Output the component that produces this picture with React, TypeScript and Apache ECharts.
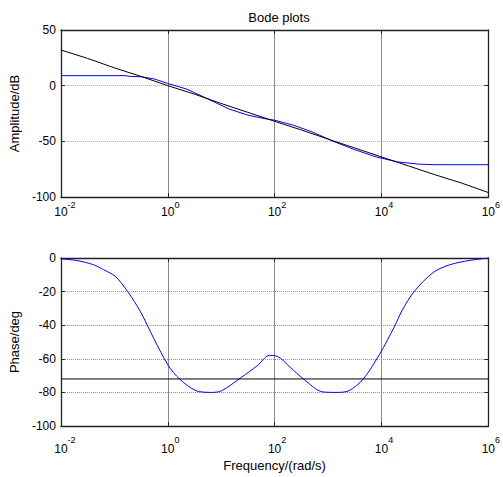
import React, { useEffect, useRef } from "react";
import * as echarts from "echarts";

// Frequencies given as decade exponents (log10 of rad/s)
const ampBlackExp = [-2, -1.5, -1, -0.5, 0, 0.5, 1, 1.5, 2, 2.5, 3, 3.5, 4, 4.5, 5, 5.5, 6];
const ampBlackDb = [32, 24.5, 16, 8.3, 0, -7.6, -16, -24, -32, -39.8, -48, -56, -64, -72, -80, -87.5, -96];

const ampBlueExp = [-2, -0.8, -0.7, -0.5, -0.25, 0, 0.35, 0.6, 0.95, 1.15, 1.5, 1.8, 2.0, 2.35, 2.7, 3.1, 3.5, 3.9, 4.3, 4.7, 5, 6];
const ampBlueDb = [9, 9, 8.3, 8, 6, 2, -3, -8.5, -16.5, -21, -26.5, -29.5, -31, -35.5, -41.5, -50, -57.5, -64, -68.5, -70.5, -71, -71];

const phaseExp = [-2, -1.7, -1.39, -1.2, -0.98, -0.75, -0.51, -0.26, 0.01, 0.22, 0.53, 0.83, 1.01, 1.38, 1.68, 1.9, 2.05, 2.29, 2.54, 2.9, 3.15, 3.39, 3.66, 3.97, 4.24, 4.39, 4.61, 4.97, 5.28, 5.64, 6];
const phaseDeg = [-0.5, -1.5, -4, -7, -11, -20, -32, -48, -64, -72, -79, -80, -79, -71, -64, -58, -58.5, -65, -72, -79.7, -80, -79, -72, -57, -41, -31, -20, -8.6, -4, -1.5, 0];

const phaseRefLine = -72;

const xTickExps = [-2, 0, 2, 4, 6];
const ampTicks = [-100, -50, 0, 50];
const phaseTicks = [-100, -80, -60, -40, -20, 0];

const FONT = "Liberation Sans, Arial, sans-serif";

function pairs(exps: number[], vals: number[]) {
  return exps.map((e, i) => [Math.pow(10, e), vals[i]]);
}

export default function App() {
  const ref = useRef<HTMLDivElement>(null);
  useEffect(() => {
    if (!ref.current) return;
    const chart = echarts.init(ref.current, undefined, { renderer: "svg" });

    const xLabelFmt = (v: number) => {
      const e = String(Math.round(Math.log10(v)));
      return `{p${e.length}|}{b|10}{s|${e}}`;
    };
    // bPad: space above "10"; sPad: space below the exponent (same total height)
    const richFor = (bPad: number, sPad: number) => ({
      p1: { width: 5, height: 12 + bPad },
      p2: { width: 8, height: 12 + bPad },
      b: { fontSize: 12, lineHeight: 12, padding: [bPad, 0, 0, 0], fontFamily: FONT, color: "#000" },
      s: { fontSize: 9, lineHeight: 9, padding: [0, 0, sPad, 0], fontFamily: FONT, color: "#000" },
    });

    const gridLeft = 55;
    const gridW = 438;
    const grids = [
      { left: gridLeft, top: 30, width: gridW, height: 167 },
      { left: gridLeft, top: 258, width: gridW, height: 168 },
    ];

    const mainX = (gi: number, margin: number, bPad: number, sPad: number, name?: string) => ({
      type: "log",
      logBase: 10,
      gridIndex: gi,
      min: Math.pow(10, xTickExps[0]),
      max: Math.pow(10, xTickExps[xTickExps.length - 1]),
      interval: 2,
      position: "bottom",
      name: name || "",
      nameLocation: "middle",
      nameGap: 33,
      nameTextStyle: { fontSize: 13, fontFamily: FONT, color: "#000" },
      axisLine: { show: true, onZero: false, lineStyle: { color: "#222", width: 1.3 } },
      axisTick: { show: true, inside: true, length: 4, lineStyle: { color: "#222" } },
      axisLabel: { margin: margin, formatter: xLabelFmt, rich: richFor(bPad, sPad), color: "#000" },
      splitLine: { show: true, lineStyle: { color: "#8a8a8a", width: 1 } },
      minorTick: { show: false },
    });
    const topX = (gi: number) => ({
      type: "log",
      logBase: 10,
      gridIndex: gi,
      min: Math.pow(10, xTickExps[0]),
      max: Math.pow(10, xTickExps[xTickExps.length - 1]),
      interval: 2,
      position: "top",
      axisLine: { show: true, onZero: false, lineStyle: { color: "#222", width: 1.3 } },
      axisTick: { show: true, inside: true, length: 4, lineStyle: { color: "#222" } },
      axisLabel: { show: false },
      splitLine: { show: false },
    });

    const mainY = (gi: number, min: number, max: number, interval: number, name: string, hColor: string) => ({
      type: "value",
      gridIndex: gi,
      min,
      max,
      interval,
      position: "left",
      name,
      nameLocation: "middle",
      nameGap: 38,
      nameTextStyle: { fontSize: 13, fontFamily: FONT, color: "#000" },
      axisLine: { show: true, onZero: false, lineStyle: { color: "#222", width: 1.3 } },
      axisTick: { show: true, inside: true, length: 4, lineStyle: { color: "#222" } },
      axisLabel: { margin: 5, fontSize: 12, fontFamily: FONT, color: "#000" },
      splitLine: { show: true, lineStyle: { color: hColor, width: 1, type: [1, 1] } },
    });
    const rightY = (gi: number, min: number, max: number, interval: number) => ({
      type: "value",
      gridIndex: gi,
      min,
      max,
      interval,
      position: "right",
      axisLine: { show: true, onZero: false, lineStyle: { color: "#222", width: 1.3 } },
      axisTick: { show: true, inside: true, length: 4, lineStyle: { color: "#222" } },
      axisLabel: { show: false },
      splitLine: { show: false },
    });

    chart.setOption({
      animation: false,
      backgroundColor: "#fff",
      title: {
        text: "Bode plots",
        left: 274,
        top: 6,
        textAlign: "center",
        textStyle: { fontSize: 13, fontWeight: "normal", fontFamily: FONT, color: "#000" },
      },
      grid: grids,
      xAxis: [mainX(0, 3, 6, 9), topX(0), mainX(1, 9, 8, 11, "Frequency/(rad/s)"), topX(1)],
      yAxis: [
        mainY(0, ampTicks[0], ampTicks[ampTicks.length - 1], 50, "Amplitude/dB", "#a8a8a8"),
        rightY(0, ampTicks[0], ampTicks[ampTicks.length - 1], 50),
        mainY(1, phaseTicks[0], phaseTicks[phaseTicks.length - 1], 20, "Phase/deg", "#8a8a8a"),
        rightY(1, phaseTicks[0], phaseTicks[phaseTicks.length - 1], 20),
      ],
      series: [
        {
          type: "line",
          xAxisIndex: 0,
          yAxisIndex: 0,
          data: pairs(ampBlueExp, ampBlueDb),
          showSymbol: false,
          lineStyle: { color: "#0000ff", width: 1 },
        },
        {
          type: "line",
          xAxisIndex: 0,
          yAxisIndex: 0,
          data: pairs(ampBlackExp, ampBlackDb),
          showSymbol: false,
          lineStyle: { color: "#000", width: 1 },
        },
        {
          type: "line",
          xAxisIndex: 2,
          yAxisIndex: 2,
          data: pairs(phaseExp, phaseDeg),
          showSymbol: false,
          smooth: 0.3,
          lineStyle: { color: "#0000ff", width: 1 },
        },
        {
          type: "line",
          xAxisIndex: 2,
          yAxisIndex: 2,
          data: [
            [Math.pow(10, xTickExps[0]), phaseRefLine],
            [Math.pow(10, xTickExps[xTickExps.length - 1]), phaseRefLine],
          ],
          showSymbol: false,
          lineStyle: { color: "#000", width: 1 },
        },
      ],
    });
    return () => chart.dispose();
  }, []);
  return (
    <div
      ref={ref}
      style={{ position: "fixed", left: 0, top: 0, width: 503, height: 477, background: "#fff" }}
    />
  );
}
